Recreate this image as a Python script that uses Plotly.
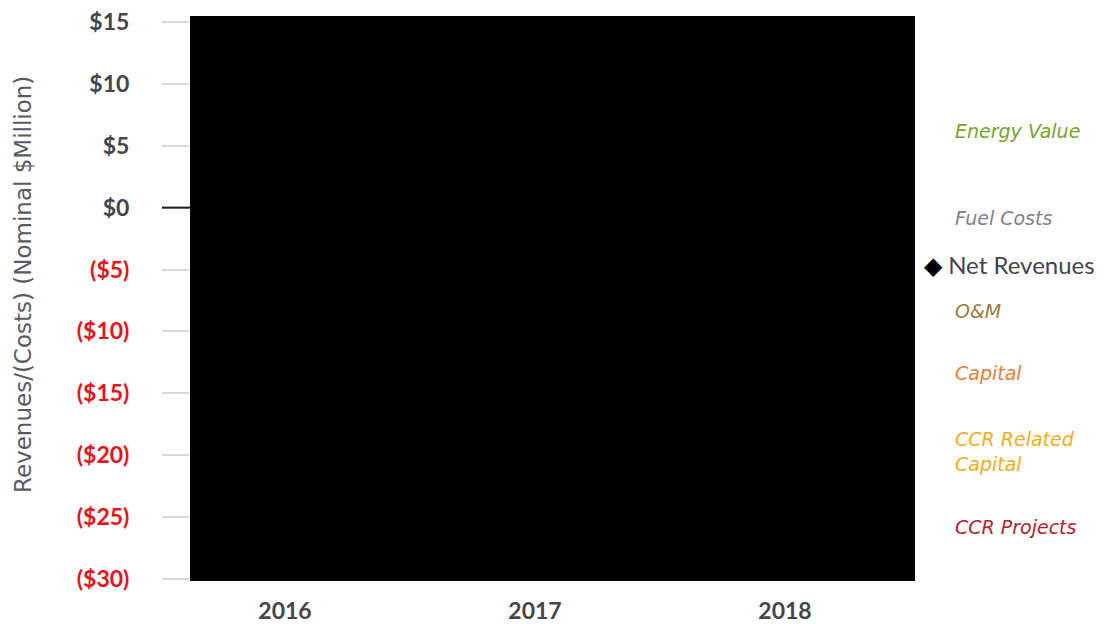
import plotly.graph_objects as go

# ---- data (estimated; the plot area in the reference is rendered solid black) ----
years = ["2016", "2017", "2018"]
energy_value = [12.0, 12.5, 13.0]
fuel_costs = [-2.0, -2.0, -2.0]
om_costs = [-5.0, -5.0, -5.0]
capital = [-5.0, -5.0, -5.0]
ccr_related_capital = [-8.0, -8.0, -8.0]
ccr_projects = [-8.0, -8.0, -8.0]
net_revenues = [-16.0, -15.5, -15.0]

tick_vals = [15, 10, 5, 0, -5, -10, -15, -20, -25, -30]
tick_text = ["$15", "$10", "$5", "$0", "($5)", "($10)", "($15)", "($20)", "($25)", "($30)"]

series_names = ["Energy Value", "Fuel Costs", "O&M", "Capital", "CCR Related Capital", "CCR Projects"]
series_values = [energy_value, fuel_costs, om_costs, capital, ccr_related_capital, ccr_projects]

label_texts = ["Energy Value", "Fuel Costs", "O&M", "Capital", "CCR Related<br>Capital", "CCR Projects"]
label_colors = ["#78a22f", "#80808c", "#9a7b3c", "#ea7d3c", "#f2ad1c", "#b22232"]
label_y_px = [131, 218, 311, 373, 451, 527]

# ---- geometry (screen pixels; page body adds an 8px offset) ----
OFF = 8
FW, FH = 1104, 624 - OFF
PL, PR, PT, PB = 190, 915, 16, 581
plot_w, plot_h = PR - PL, PB - PT


def px_x(px):
    return (px - PL) / plot_w


def px_y(py):
    return (PB - py) / plot_h


fig = go.Figure()
for name, vals in zip(series_names, series_values):
    fig.add_trace(go.Bar(x=years, y=vals, name=name, marker=dict(color="black", line=dict(width=0)),
                         showlegend=False))
fig.add_trace(go.Scatter(x=years, y=net_revenues, mode="markers", name="Net Revenues",
                         marker=dict(symbol="diamond", color="black", size=12), showlegend=False))

red = "#e8141b"
grey = "#45454d"
colored_ticks = []
for v, t in zip(tick_vals, tick_text):
    c = red if v < 0 else grey
    colored_ticks.append(f"<span style='color:{c}'>{t}</span>")

fig.update_layout(
    width=FW, height=FH,
    margin=dict(l=PL - OFF, r=FW - (PR - OFF), t=PT - OFF, b=FH - (PB - OFF), pad=0),
    paper_bgcolor="white",
    plot_bgcolor="black",
    barmode="relative",
    bargap=0,
    font=dict(family="Lato, 'Open Sans', sans-serif", color=grey),
    xaxis=dict(
        type="category", range=[-0.38, 2.52], showgrid=False, zeroline=False,
        showline=False, ticks="", automargin=False,
        tickfont=dict(size=23, family="Lato, sans-serif", color=grey, weight="bold"),
        ticklabelstandoff=14,
    ),
    yaxis=dict(
        range=[-30.16, 15.48], tickmode="array", tickvals=tick_vals, ticktext=colored_ticks,
        showgrid=False, zeroline=False, showline=False, automargin=False,
        ticks="outside", ticklen=27, tickwidth=2, tickcolor="#d8d8d8",
        ticklabelstandoff=28, ticklabeloverflow="allow",
        tickfont=dict(size=23, family="Lato, sans-serif", weight="bold"),
    ),
)

# darker zero tick
fig.add_shape(type="line", xref="paper", yref="y", x0=px_x(162), x1=0, y0=0, y1=0,
              line=dict(color="#202020", width=2))

# y axis title
fig.add_annotation(
    text="Revenues/(Costs) (Nominal $Million)", textangle=-90,
    xref="paper", yref="paper", x=px_x(23), y=px_y(285),
    xanchor="center", yanchor="middle", showarrow=False,
    font=dict(size=23, color="#5a5a62", family="DejaVu Sans, sans-serif"),
)

# right-side series labels
for txt, col, ypx in zip(label_texts, label_colors, label_y_px):
    fig.add_annotation(
        text=f"<i>{txt}</i>", xref="paper", yref="paper",
        x=px_x(953), y=px_y(ypx),
        xanchor="left", yanchor="middle", align="left", showarrow=False,
        font=dict(size=19, color=col, family="DejaVu Sans, sans-serif"),
    )
fig.add_annotation(
    text="<span style='color:black'>◆</span> Net Revenues", xref="paper", yref="paper",
    x=px_x(922), y=px_y(264),
    xanchor="left", yanchor="middle", align="left", showarrow=False,
    font=dict(size=24, color=grey, family="Lato, sans-serif"),
)

fig.write_html("out.html")
